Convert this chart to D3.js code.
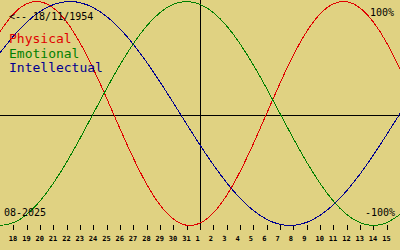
<!DOCTYPE html>
<html>
<head>
<meta charset="utf-8">
<script src="https://cdn.jsdelivr.net/npm/d3@7"></script>
<style>
  html, body { margin: 0; padding: 0; background: #e0d282; }
  svg { display: block; }
  text { font-family: "DejaVu Sans Mono", monospace; }
</style>
</head>
<body>
<svg id="chart" width="400" height="250"></svg>
<script>
// --- DATA --------------------------------------------------------------------
// one value per day, 17 Jul 2025 .. 16 Aug 2025 (index 0..30)
const physical = [
   0.731,  0.888,  0.979,  0.998,  0.942,  0.817,  0.631,  0.398,  0.136, -0.136,
  -0.398, -0.631, -0.817, -0.942, -0.998, -0.979, -0.888, -0.731, -0.520, -0.270,
   0.000,  0.270,  0.520,  0.731,  0.888,  0.979,  0.998,  0.942,  0.817,  0.631,
   0.398
];
const emotional = [
  -1.000, -0.975, -0.901, -0.782, -0.623, -0.434, -0.223,  0.000,  0.223,  0.434,
   0.623,  0.782,  0.901,  0.975,  1.000,  0.975,  0.901,  0.782,  0.623,  0.434,
   0.223,  0.000, -0.223, -0.434, -0.623, -0.782, -0.901, -0.975, -1.000, -0.975,
  -0.901
];
const intellectual = [
   0.541,  0.690,  0.815,  0.910,  0.972,  0.999,  0.990,  0.945,  0.866,  0.756,
   0.618,  0.458,  0.282,  0.095, -0.095, -0.282, -0.458, -0.618, -0.756, -0.866,
  -0.945, -0.990, -0.999, -0.972, -0.910, -0.815, -0.690, -0.541, -0.372, -0.189,
   0.000
];
// tick labels for index 1..29
const dayLabels = [18, 19, 20, 21, 22, 23, 24, 25, 26, 27, 28, 29, 30, 31,
                   1, 2, 3, 4, 5, 6, 7, 8, 9, 10, 11, 12, 13, 14, 15];
const todayIndex = 15;   // 1st of the month
const series = [
  { name: 'Physical',     values: physical,     color: '#e00000' },
  { name: 'Emotional',    values: emotional,    color: '#008000' },
  { name: 'Intellectual', values: intellectual, color: '#000090' },
];
const birthText = '<-- 18/11/1954';
const monthText = '08-2025';

// --- LAYOUT ------------------------------------------------------------------
const W = 400, H = 250;
const PLOT_H = 230;
const TICK_LEN = 5;

const svg = d3.select('#chart');
svg.append('rect').attr('width', W).attr('height', H).attr('fill', '#e0d282');

const x = d3.scaleLinear().domain([0, physical.length - 1]).range([0, W]);
const y = d3.scaleLinear().domain([-1, 1]).range([PLOT_H - 4.5, 1.5]);

// --- AXES / RULES ------------------------------------------------------------
const axis = d3.axisBottom(x)
  .tickValues(d3.range(1, dayLabels.length + 1))
  .tickFormat((d, i) => dayLabels[i])
  .tickSize(TICK_LEN)
  .tickPadding(0);

const axisG = svg.append('g')
  .attr('transform', `translate(0,${PLOT_H - TICK_LEN})`)
  .call(axis);
axisG.select('.domain').remove();
axisG.selectAll('line').attr('stroke', '#000').attr('shape-rendering', 'crispEdges');
axisG.selectAll('text')
  .attr('fill', '#000')
  .attr('font-family', '"DejaVu Sans Mono", monospace')
  .attr('font-size', 7)
  .attr('font-weight', 'bold')
  .attr('text-anchor', 'start')
  .attr('x', -5)
  .attr('dy', null)
  .attr('y', 16);

// zero line and "today" line
svg.append('line')
  .attr('x1', 0).attr('x2', W)
  .attr('y1', PLOT_H / 2 + 0.5).attr('y2', PLOT_H / 2 + 0.5)
  .attr('stroke', '#000').attr('shape-rendering', 'crispEdges');
svg.append('line')
  .attr('x1', Math.round(x(todayIndex)) + 0.5).attr('x2', Math.round(x(todayIndex)) + 0.5)
  .attr('y1', 0).attr('y2', PLOT_H)
  .attr('stroke', '#000').attr('shape-rendering', 'crispEdges');

// --- CURVES ------------------------------------------------------------------
const line = d3.line()
  .x((d, i) => x(i))
  .y(d => y(d))
  .curve(d3.curveNatural);

svg.append('g').selectAll('path')
  .data(series)
  .join('path')
  .attr('d', d => line(d.values))
  .attr('fill', 'none')
  .attr('stroke', d => d.color)
  .attr('stroke-width', 1)
  .attr('shape-rendering', 'crispEdges');

// --- TEXT --------------------------------------------------------------------
svg.append('text').attr('x', 9).attr('y', 20)
  .attr('font-size', 10).attr('fill', '#000').text(birthText);

svg.append('g').selectAll('text')
  .data(series)
  .join('text')
  .attr('x', 9)
  .attr('y', (d, i) => 43 + i * 14.5)
  .attr('font-size', 13)
  .attr('fill', d => d.color)
  .text(d => d.name);

svg.append('text').attr('x', 394).attr('y', 16)
  .attr('text-anchor', 'end').attr('font-size', 10).attr('fill', '#000').text('100%');
svg.append('text').attr('x', 395).attr('y', 216)
  .attr('text-anchor', 'end').attr('font-size', 10).attr('fill', '#000').text('-100%');
svg.append('text').attr('x', 4).attr('y', 216)
  .attr('font-size', 10).attr('fill', '#000').text(monthText);
</script>
</body>
</html>
